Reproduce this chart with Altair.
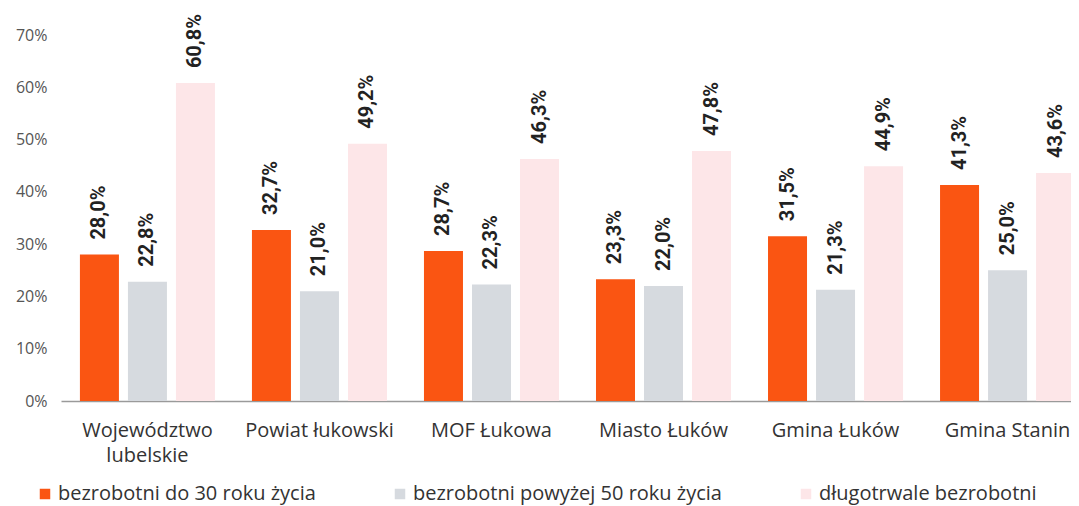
import altair as alt
import pandas as pd

categories = ["Województwo\nlubelskie", "Powiat łukowski", "MOF Łukowa",
              "Miasto Łuków", "Gmina Łuków", "Gmina Stanin"]
series = ["bezrobotni do 30 roku życia", "bezrobotni powyżej 50 roku życia",
          "długotrwale bezrobotni"]
young = [28.0, 32.7, 28.7, 23.3, 31.5, 41.3]
older = [22.8, 21.0, 22.3, 22.0, 21.3, 25.0]
longterm = [60.8, 49.2, 46.3, 47.8, 44.9, 43.6]
colors = ["#FA5512", "#D6DADF", "#FDE6E8"]
y_ticks = [0, 10, 20, 30, 40, 50, 60, 70]

rows = []
for s, vals in zip(series, [young, older, longterm]):
    for c, v in zip(categories, vals):
        rows.append({"cat": c, "series": s, "value": v,
                     "label": f"{v:.1f}".replace(".", ",") + "%"})
df = pd.DataFrame(rows)

base = alt.Chart(df).encode(
    x=alt.X("cat:N", sort=categories, title=None,
            scale=alt.Scale(range=[0, 1033], paddingInner=0.215, paddingOuter=0.11),
            axis=alt.Axis(labelAngle=0, labelExpr="split(datum.label, '\\n')",
                          labelFont="Open Sans", labelFontSize=20, labelColor="#333333",
                          labelLineHeight=25, labelPadding=19,
                          labelLimit=300, ticks=False, domainColor="#9a9a9a",
                          domainWidth=1.5, grid=False)),
    xOffset=alt.XOffset("series:N", sort=series,
                        scale=alt.Scale(paddingInner=0.1875, paddingOuter=0)),
    y=alt.Y("value:Q", title=None,
            scale=alt.Scale(domain=[0, 70], nice=False),
            axis=alt.Axis(values=y_ticks, labelExpr="datum.value + '%'",
                          labelFont="Open Sans", labelFontSize=16, labelColor="#555555",
                          domain=False, ticks=False, grid=False,
                          labelPadding=14, minExtent=53, maxExtent=53)),
)

bars = base.mark_bar().encode(
    color=alt.Color("series:N", sort=series,
                    scale=alt.Scale(domain=series, range=colors),
                    legend=alt.Legend(title=None, orient="none", direction="horizontal",
                                      legendX=-26, legendY=449, symbolType="square",
                                      symbolSize=110, symbolStrokeWidth=0,
                                      labelFont="Open Sans", labelFontSize=20,
                                      labelColor="#333333", labelLimit=500,
                                      columnPadding=74, labelOffset=3, padding=0))
)

texts = base.mark_text(angle=270, align="left", baseline="middle", dx=15,
                       font="Roboto", fontSize=20, fontWeight="bold",
                       color="#222222").encode(text="label:N")

chart = (bars + texts).properties(
    width=1002, height=366,
    autosize=alt.AutoSizeParams(type="none"),
    padding={"left": 53, "top": 27, "right": 8, "bottom": 105},
).configure_view(stroke=None)

chart.save("out.html", embed_options={"renderer": "svg", "actions": False})
